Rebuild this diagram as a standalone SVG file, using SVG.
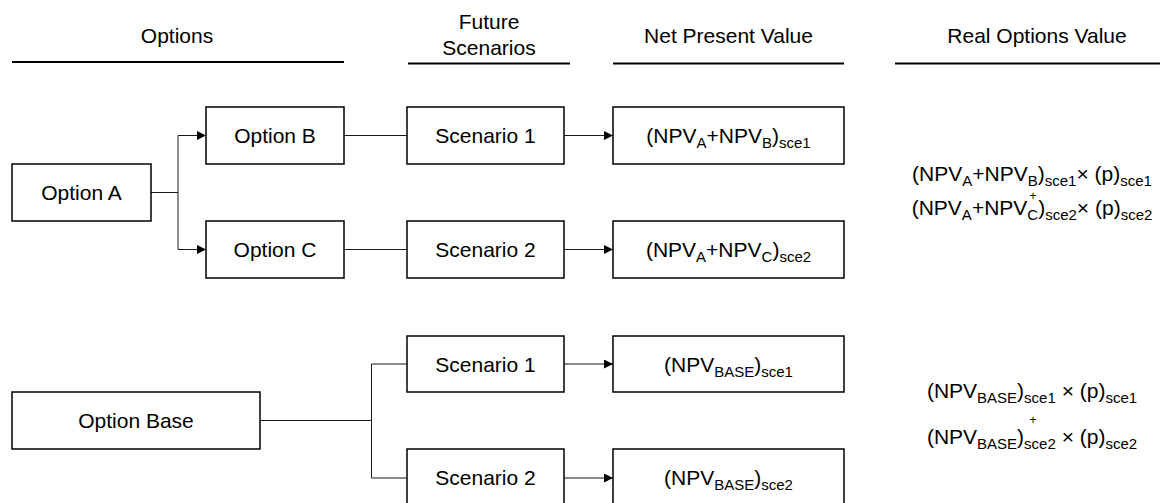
<svg xmlns="http://www.w3.org/2000/svg" width="1160" height="503" viewBox="0 0 1160 503">
  <style>
    text { font-family: "Liberation Sans", Arial, Helvetica, sans-serif; font-size: 21px; fill: #000; }
    .c { text-anchor: middle; }
    .sub { font-size: 15px; }
    .plus { font-size: 12px; }
    .box { fill: #fff; stroke: #000; stroke-width: 1.5; }
    .rule { stroke: #000; stroke-width: 2; }
    .wire { fill: none; stroke: #1a1a1a; stroke-width: 1; }
  </style>
  <defs>
    <marker id="arrow" markerUnits="userSpaceOnUse" markerWidth="10" markerHeight="10" refX="9" refY="4.5" orient="auto">
      <path d="M0,0 L9,4.5 L0,9 Z" fill="#000"/>
    </marker>
  </defs>

  <rect width="1160" height="503" fill="#fff"/>

  <!-- column headers -->
  <g id="headers">
    <text class="c" x="177" y="43">Options</text>
    <line class="rule" x1="12" y1="62" x2="344" y2="62"/>
    <text class="c" x="489" y="29">Future</text>
    <text class="c" x="489" y="55">Scenarios</text>
    <line class="rule" x1="408" y1="63.5" x2="570" y2="63.5"/>
    <text class="c" x="728.5" y="43">Net Present Value</text>
    <line class="rule" x1="613" y1="63.5" x2="844" y2="63.5"/>
    <text class="c" x="1037" y="43">Real Options Value</text>
    <line class="rule" x1="895" y1="63.5" x2="1160" y2="63.5"/>
  </g>

  <!-- connectors -->
  <g id="connectors">
    <path class="wire" d="M151,192.5 H178 V135.5 H206" marker-end="url(#arrow)"/>
    <path class="wire" d="M178,192.5 V249.5 H206" marker-end="url(#arrow)"/>
    <path class="wire" d="M344,135.5 H407"/>
    <path class="wire" d="M344,249.5 H407"/>
    <path class="wire" d="M564,135.5 H613" marker-end="url(#arrow)"/>
    <path class="wire" d="M564,249.5 H613" marker-end="url(#arrow)"/>
    <path class="wire" d="M260,420.5 H371.5 V364 H407"/>
    <path class="wire" d="M371.5,420.5 V478 H407"/>
    <path class="wire" d="M564,364 H613" marker-end="url(#arrow)"/>
    <path class="wire" d="M564,478 H613" marker-end="url(#arrow)"/>
  </g>

  <!-- options -->
  <g id="option-a">
    <rect class="box" x="12" y="164" width="139" height="57"/>
    <text class="c" x="81.5" y="200">Option A</text>
  </g>
  <g id="option-b">
    <rect class="box" x="206" y="107" width="138" height="57"/>
    <text class="c" x="275" y="143">Option B</text>
  </g>
  <g id="option-c">
    <rect class="box" x="206" y="221" width="138" height="57"/>
    <text class="c" x="275" y="257">Option C</text>
  </g>
  <g id="option-base">
    <rect class="box" x="12" y="392" width="248" height="57"/>
    <text class="c" x="136" y="428">Option Base</text>
  </g>

  <!-- scenarios -->
  <g id="scenario-ab-1">
    <rect class="box" x="407" y="107" width="157" height="57"/>
    <text class="c" x="485.5" y="143">Scenario 1</text>
  </g>
  <g id="scenario-ac-2">
    <rect class="box" x="407" y="221" width="157" height="57"/>
    <text class="c" x="485.5" y="257">Scenario 2</text>
  </g>
  <g id="scenario-base-1">
    <rect class="box" x="407" y="336" width="157" height="56"/>
    <text class="c" x="485.5" y="371.5">Scenario 1</text>
  </g>
  <g id="scenario-base-2">
    <rect class="box" x="407" y="449" width="157" height="57"/>
    <text class="c" x="485.5" y="485">Scenario 2</text>
  </g>

  <!-- net present values -->
  <g id="npv-ab-1">
    <rect class="box" x="613" y="107" width="231" height="57"/>
    <text class="c" x="728.5" y="143">(NPV<tspan class="sub" dy="5">A</tspan><tspan dy="-5">+NPV</tspan><tspan class="sub" dy="5">B</tspan><tspan dy="-5">)</tspan><tspan class="sub" dy="5">sce1</tspan></text>
  </g>
  <g id="npv-ac-2">
    <rect class="box" x="613" y="221" width="231" height="57"/>
    <text class="c" x="728.5" y="257">(NPV<tspan class="sub" dy="5">A</tspan><tspan dy="-5">+NPV</tspan><tspan class="sub" dy="5">C</tspan><tspan dy="-5">)</tspan><tspan class="sub" dy="5">sce2</tspan></text>
  </g>
  <g id="npv-base-1">
    <rect class="box" x="613" y="336" width="231" height="56"/>
    <text class="c" x="728.5" y="371.5">(NPV<tspan class="sub" dy="5">BASE</tspan><tspan dy="-5">)</tspan><tspan class="sub" dy="5">sce1</tspan></text>
  </g>
  <g id="npv-base-2">
    <rect class="box" x="613" y="449" width="231" height="57"/>
    <text class="c" x="728.5" y="485">(NPV<tspan class="sub" dy="5">BASE</tspan><tspan dy="-5">)</tspan><tspan class="sub" dy="5">sce2</tspan></text>
  </g>

  <!-- real options values -->
  <g id="rov-a">
    <text class="c" x="1032" y="181">(NPV<tspan class="sub" dy="5">A</tspan><tspan dy="-5">+NPV</tspan><tspan class="sub" dy="5">B</tspan><tspan dy="-5">)</tspan><tspan class="sub" dy="5">sce1</tspan><tspan dy="-5">× (p)</tspan><tspan class="sub" dy="5">sce1</tspan></text>
    <text class="c plus" x="1033" y="200">+</text>
    <text class="c" x="1032" y="215">(NPV<tspan class="sub" dy="5">A</tspan><tspan dy="-5">+NPV</tspan><tspan class="sub" dy="5">C</tspan><tspan dy="-5">)</tspan><tspan class="sub" dy="5">sce2</tspan><tspan dy="-5">× (p)</tspan><tspan class="sub" dy="5">sce2</tspan></text>
  </g>
  <g id="rov-base">
    <text class="c" x="1032" y="398">(NPV<tspan class="sub" dy="5">BASE</tspan><tspan dy="-5">)</tspan><tspan class="sub" dy="5">sce1</tspan><tspan dy="-5"> × (p)</tspan><tspan class="sub" dy="5">sce1</tspan></text>
    <text class="c plus" x="1033" y="424">+</text>
    <text class="c" x="1032" y="444">(NPV<tspan class="sub" dy="5">BASE</tspan><tspan dy="-5">)</tspan><tspan class="sub" dy="5">sce2</tspan><tspan dy="-5"> × (p)</tspan><tspan class="sub" dy="5">sce2</tspan></text>
  </g>
</svg>
